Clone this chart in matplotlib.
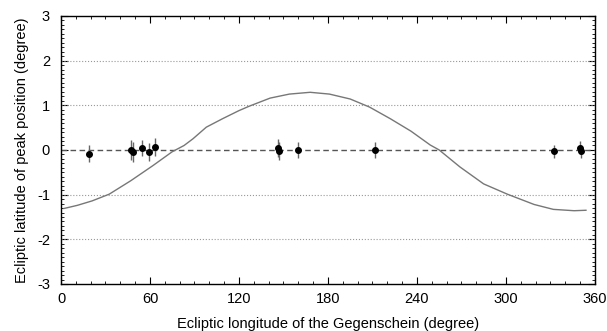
import matplotlib
matplotlib.use("Agg")
import matplotlib.pyplot as plt
from matplotlib.ticker import MultipleLocator

plt.rcParams['font.family'] = ['Liberation Sans', 'DejaVu Sans']
plt.rcParams['axes.unicode_minus'] = False

# model curve
curve_lon = [2, 11, 21, 32.5, 47, 62, 75, 83, 89, 98, 109, 120, 127, 141, 154, 168,
             181, 195, 208, 222, 236, 249, 255, 269, 285, 301, 319, 332, 346, 354]
curve_lat = [-1.31, -1.24, -1.14, -0.99, -0.69, -0.35, -0.04, 0.10, 0.25, 0.51, 0.70,
             0.88, 0.98, 1.16, 1.25, 1.29, 1.25, 1.14, 0.96, 0.70, 0.42, 0.11, 0.0,
             -0.38, -0.76, -0.99, -1.22, -1.33, -1.36, -1.35]

# observed peak positions
obs_lon = [18.9, 47.5, 48.5, 54.3, 59.1, 63.6, 146.4, 147.2, 160.0, 211.8, 332.4, 350.3, 350.8]
obs_lat = [-0.08, 0.0, -0.04, 0.05, -0.05, 0.06, 0.04, -0.02, 0.0, 0.0, -0.03, 0.05, -0.03]
obs_lat_err = [0.2, 0.22, 0.22, 0.18, 0.2, 0.2, 0.2, 0.2, 0.18, 0.18, 0.15, 0.15, 0.15]
obs_lon_err = [1.5, 1.5, 1.5, 1, 1, 1, 1.5, 1.5, 1.5, 1, 1.5, 1.5, 1.5]

fig = plt.figure(figsize=(6.07, 3.31), dpi=100)
ax = fig.add_axes([0.1005, 0.142, 0.8795, 0.81])

for y in [-2, -1, 1, 2]:
    ax.axhline(y, color='#999999', ls=':', lw=0.8)
ax.axhline(0, color='#555555', ls=(0, (4, 2.5)), lw=1.0)

ax.plot(curve_lon, curve_lat, color='#777777', lw=1.0)
ax.errorbar(obs_lon, obs_lat, yerr=obs_lat_err, xerr=obs_lon_err, fmt='o', color='black',
            ms=4, ecolor='#666666', elinewidth=1.0, capsize=0)

ax.set_xlim(0, 360)
ax.set_ylim(-3, 3)
ax.xaxis.set_major_locator(MultipleLocator(60))
ax.xaxis.set_minor_locator(MultipleLocator(10))
ax.yaxis.set_major_locator(MultipleLocator(1))
ax.yaxis.set_minor_locator(MultipleLocator(0.1))
ax.tick_params(which='both', direction='in', top=True, right=True, labelsize=10.5)
ax.tick_params(which='major', length=5, width=0.8)
ax.tick_params(which='minor', length=2.5, width=0.6)
ax.tick_params(axis='x', which='major', pad=6)
ax.tick_params(axis='y', which='major', pad=8)
for s in ax.spines.values():
    s.set_linewidth(1.0)

ax.set_xlabel('Ecliptic longitude of the Gegenschein (degree)', fontsize=10.5, labelpad=8)
ax.set_ylabel('Ecliptic latitude of peak position (degree)', fontsize=10.5, labelpad=6)

fig.savefig('out.png', dpi=100)
